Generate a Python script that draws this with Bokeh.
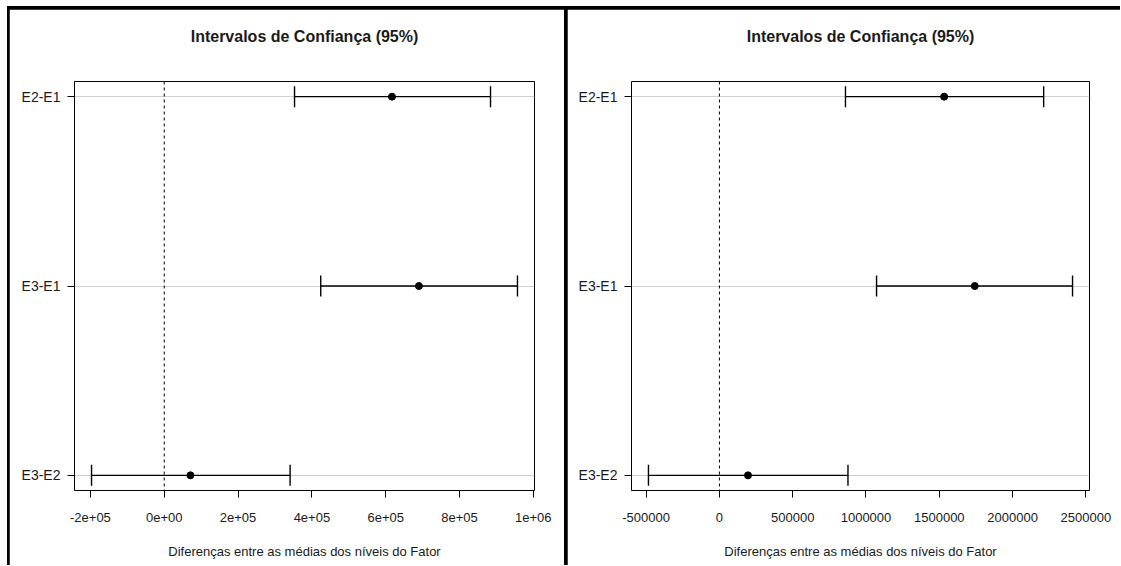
from bokeh.plotting import figure
from bokeh.layouts import row
from bokeh.models import (Range1d, FixedTicker, Whisker, TeeHead, Span, ColumnDataSource,
                          LinearAxis)
from bokeh.embed import file_html
from bokeh.resources import INLINE

# ---- data ----
comparisons = ["E2-E1", "E3-E1", "E3-E2"]

left_diff = [617000, 690000, 71000]
left_lwr = [353000, 424000, -197000]
left_upr = [884000, 957000, 341000]
left_ticks = [-200000, 0, 200000, 400000, 600000, 800000, 1000000]
left_tick_labels = ["-2e+05", "0e+00", "2e+05", "4e+05", "6e+05", "8e+05", "1e+06"]

right_diff = [1533000, 1742000, 195000]
right_lwr = [860000, 1072000, -484000]
right_upr = [2212000, 2409000, 877000]
right_ticks = [-500000, 0, 500000, 1000000, 1500000, 2000000, 2500000]
right_tick_labels = ["-500000", "0", "500000", "1000000", "1500000", "2000000", "2500000"]

title_text = "Intervalos de Confiança (95%)"
xlabel_text = "Diferenças entre as médias dos níveis do Fator"

FONT = "Liberation Sans"
TXT = "#1a1a1a"
FIG_H = 556


def make_panel(diff, lwr, upr, ticks, tick_labels, width, min_left, min_right, margin):
    lo = min(lwr)
    hi = max(upr)
    r = hi - lo
    n = len(comparisons)
    ypos = list(range(1, n + 1))
    p = figure(width=width, height=FIG_H, output_backend="svg", toolbar_location=None,
               x_range=Range1d(lo - 0.04 * r, hi + 0.04 * r),
               y_range=Range1d(n + 0.08 * (n - 1) / 2, 1 - 0.08 * (n - 1) / 2),
               min_border_left=min_left, min_border_right=min_right,
               min_border_top=72, min_border_bottom=FIG_H - 72 - 409)
    p.margin = margin
    p.background_fill_color = "white"
    p.border_fill_color = "white"
    p.outline_line_color = "black"
    p.outline_line_width = 1
    p.outline_line_alpha = 1

    # x axis (below)
    xa = p.below[0]
    xa.ticker = FixedTicker(ticks=ticks)
    ov = {}
    for t, lab in zip(ticks, tick_labels):
        ov[t] = lab
        ov[str(t)] = lab
    xa.major_label_overrides = ov
    xa.axis_line_color = None
    xa.major_tick_out = 7
    xa.major_tick_in = 0
    xa.major_tick_line_color = "black"
    xa.minor_tick_line_color = None
    xa.major_label_standoff = 15
    xa.major_label_text_font = FONT
    xa.major_label_text_font_size = "13px"
    xa.major_label_text_color = TXT
    xa.axis_label = xlabel_text
    xa.axis_label_text_font = FONT
    xa.axis_label_text_font_size = "13px"
    xa.axis_label_text_font_style = "normal"
    xa.axis_label_text_color = TXT
    xa.axis_label_standoff = 19

    # title drawn as the label of a tick-less axis above the frame
    ta = LinearAxis(ticker=FixedTicker(ticks=[]), axis_label=title_text)
    ta.axis_line_color = None
    ta.major_tick_line_color = None
    ta.minor_tick_line_color = None
    ta.major_label_text_font_size = "0px"
    ta.axis_label_text_font = FONT
    ta.axis_label_text_font_size = "16px"
    ta.axis_label_text_font_style = "bold"
    ta.axis_label_text_color = TXT
    ta.axis_label_standoff = 37
    p.add_layout(ta, "above")

    # y axis
    ya = p.left[0]
    ya.ticker = FixedTicker(ticks=ypos)
    yov = {}
    for t, lab in zip(ypos, comparisons):
        yov[t] = lab
        yov[str(t)] = lab
    ya.major_label_overrides = yov
    ya.axis_line_color = None
    ya.major_tick_out = 7
    ya.major_tick_in = 0
    ya.major_tick_line_color = "black"
    ya.minor_tick_line_color = None
    ya.major_label_standoff = 7
    ya.major_label_text_font = FONT
    ya.major_label_text_font_size = "14px"
    ya.major_label_text_color = TXT

    p.xgrid.grid_line_color = None
    p.ygrid.ticker = FixedTicker(ticks=ypos)
    p.ygrid.grid_line_color = "#cfcfcf"
    p.ygrid.grid_line_width = 1

    p.add_layout(Span(location=0, dimension="height", line_color="black",
                      line_dash="3 3", line_width=1))

    src = ColumnDataSource(dict(y=ypos, diff=diff, lwr=lwr, upr=upr))
    w = Whisker(source=src, base="y", lower="lwr", upper="upr", dimension="width",
                line_color="black", line_width=1.4,
                lower_head=TeeHead(size=21, line_color="black", line_width=1.4),
                upper_head=TeeHead(size=21, line_color="black", line_width=1.4))
    p.add_layout(w)
    p.scatter("diff", "y", source=src, size=7, color="black")
    return p


p1 = make_panel(left_diff, left_lwr, left_upr, left_ticks, left_tick_labels,
                555, 65, 30, (3, 0, 0, 2))
p2 = make_panel(right_diff, right_lwr, right_upr, right_ticks, right_tick_labels,
                553, 64, 31, (3, 0, 0, 3))

layout = row(p1, p2, styles={"background-color": "black"})
layout.margin = (6, 0, 0, 7)

open("out.html", "w").write(file_html(layout, INLINE))
